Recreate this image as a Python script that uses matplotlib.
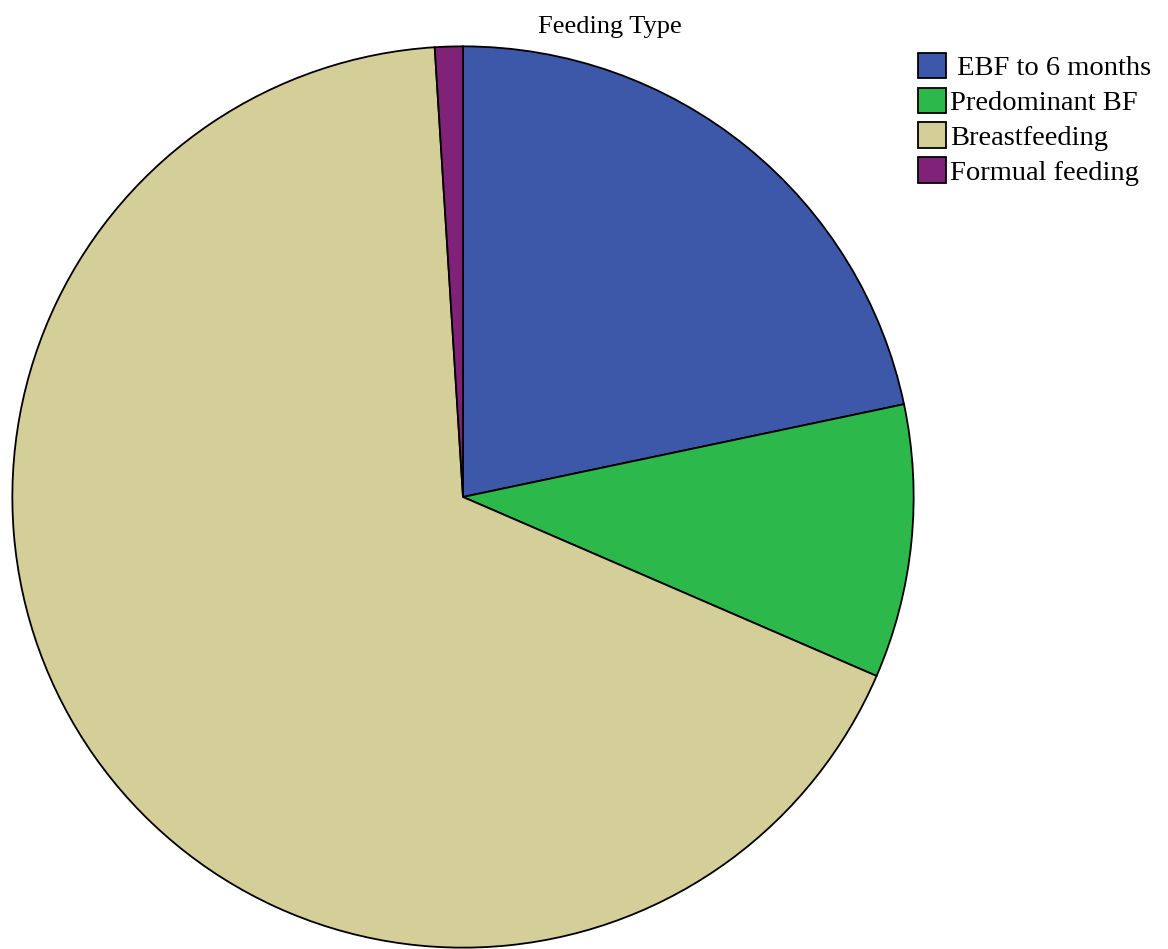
import matplotlib.pyplot as plt

labels = [' EBF to 6 months', 'Predominant BF', 'Breastfeeding', 'Formual feeding']
shares = [21.7, 9.8, 67.5, 1.0]
colors = ['#3d57a9', '#2db84b', '#d4ce99', '#7f2278']

plt.rcParams['font.family'] = ['Liberation Serif', 'DejaVu Serif']

fig = plt.figure(figsize=(11.68, 9.49), dpi=100)
ax = fig.add_axes([11 / 1168, 0, 904 / 1168, 904 / 949])
wedges, _ = ax.pie(shares, colors=colors, startangle=90, counterclock=False,
                   radius=1, wedgeprops=dict(edgecolor='black', linewidth=1.3))
ax.set_xlim(-1.003, 1.003)
ax.set_ylim(-1.003, 1.003)
ax.set_aspect('equal')
ax.axis('off')

fig.text(610 / 1168, 1 - 27 / 949, 'Feeding Type', ha='center', va='center', fontsize=19)

leg = fig.legend(wedges, labels, loc='upper left', bbox_to_anchor=(898 / 1168, 1 - 33 / 949),
                 frameon=False, fontsize=20.5, handlelength=1.0, handleheight=1.0,
                 handletextpad=0.12, labelspacing=0.22, borderpad=0.2)

fig.savefig('out.png', dpi=100)
